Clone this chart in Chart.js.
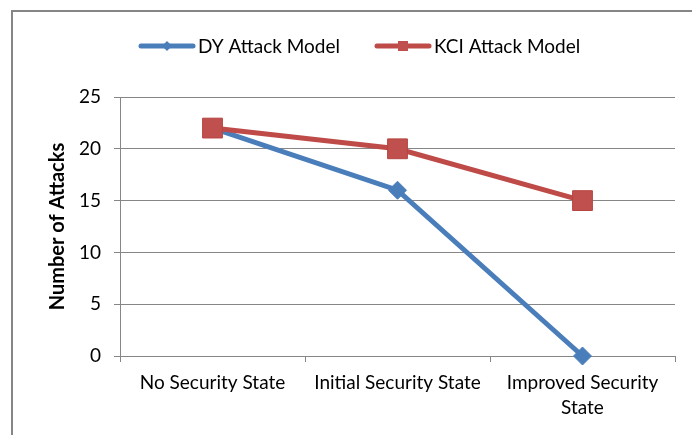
<!DOCTYPE html>
<html>
<head>
<meta charset="utf-8">
<style>
  html, body { margin: 0; padding: 0; background: #fff; }
  #wrap { position: relative; width: 692px; height: 435px; }
</style>
<script src="https://cdn.jsdelivr.net/npm/chart.js@4/dist/chart.umd.min.js"></script>
</head>
<body>
<div id="wrap"><canvas id="c" width="692" height="435"></canvas></div>
<script>
// Attacks found per security state, for each attack model
const categories = ['No Security State', 'Initial Security State', ['Improved Security', 'State']];
const dyAttacks = [22, 16, 0];
const kciAttacks = [22, 20, 15];
const yTicks = [0, 5, 10, 15, 20, 25];

const FONT = 'Lato, "Open Sans", sans-serif';
const BLUE = '#4a7ebb';
const RED = '#be4b48';
const GRID = '#868686';

// Outer frame and a line-with-marker legend, drawn on the canvas
const framePlugin = {
  id: 'frame',
  beforeDraw(chart) {
    const ctx = chart.ctx;
    ctx.save();
    ctx.strokeStyle = GRID;
    ctx.lineWidth = 2;
    ctx.beginPath();
    ctx.moveTo(12, 440);
    ctx.lineTo(12, 11);
    ctx.lineTo(700, 11);
    ctx.stroke();
    ctx.restore();
  }
};

const lineLegend = {
  id: 'lineLegend',
  afterDraw(chart) {
    const ctx = chart.ctx;
    ctx.save();
    ctx.font = '19px ' + FONT;
    ctx.textBaseline = 'middle';
    const y = 46;
    const lineLen = 56, gap = 3, spacing = 35;
    const items = chart.data.datasets.map(ds => ({
      ds, w: lineLen + gap + ctx.measureText(ds.label).width
    }));
    let x = 139;
    items.forEach(({ ds, w }) => {
      ctx.strokeStyle = ds.borderColor;
      ctx.lineWidth = 5;
      ctx.lineCap = 'round';
      ctx.beginPath();
      ctx.moveTo(x + 2, y);
      ctx.lineTo(x + lineLen - 2, y);
      ctx.stroke();
      const cx = x + lineLen / 2;
      ctx.fillStyle = ds.pointBackgroundColor;
      ctx.beginPath();
      if (ds.pointStyle === 'rectRot') {
        const r = 5;
        ctx.moveTo(cx, y - r); ctx.lineTo(cx + r, y); ctx.lineTo(cx, y + r); ctx.lineTo(cx - r, y);
        ctx.closePath();
      } else {
        ctx.rect(cx - 5, y - 5, 10, 10);
      }
      ctx.fill();
      ctx.fillStyle = '#000';
      ctx.fillText(ds.label, x + lineLen + gap, y + 1);
      x += w + spacing;
    });
    ctx.restore();
  }
};

new Chart(document.getElementById('c'), {
  type: 'line',
  data: {
    labels: categories,
    datasets: [
      {
        label: 'DY Attack Model',
        data: dyAttacks,
        order: 1,
        clip: false,
        borderColor: BLUE,
        backgroundColor: BLUE,
        pointBackgroundColor: BLUE,
        pointBorderColor: BLUE,
        borderWidth: 5,
        pointStyle: 'rectRot',
        pointRadius: 9,
        pointHoverRadius: 9,
        pointBorderWidth: 1,
        tension: 0
      },
      {
        label: 'KCI Attack Model',
        data: kciAttacks,
        order: 0,
        clip: false,
        borderColor: RED,
        backgroundColor: RED,
        pointBackgroundColor: '#c0504d',
        pointBorderColor: '#b64542',
        borderWidth: 5,
        pointStyle: 'rect',
        pointRadius: 14,
        pointHoverRadius: 14,
        pointBorderWidth: 1,
        tension: 0
      }
    ]
  },
  options: {
    responsive: false,
    animation: false,
    layout: { padding: { top: 97, right: 17, left: 0, bottom: 0 } },
    plugins: {
      legend: { display: false },
      tooltip: { enabled: false }
    },
    scales: {
      x: {
        offset: true,
        grid: {
          offset: true,
          drawOnChartArea: false,
          drawTicks: true,
          tickLength: 6,
          color: GRID,
          lineWidth: 1
        },
        border: { color: GRID, width: 1 },
        ticks: {
          color: '#000',
          font: { family: FONT, size: 19, lineHeight: 1.3 },
          padding: 9,
          maxRotation: 0,
          autoSkip: false
        },
        afterFit(scale) { scale.height = 79; }
      },
      y: {
        min: 0,
        max: 25,
        afterBuildTicks(scale) { scale.ticks = yTicks.map(v => ({ value: v })); },
        grid: {
          color: GRID,
          lineWidth: 1,
          drawTicks: true,
          tickLength: 6
        },
        border: { color: GRID, width: 1 },
        ticks: {
          color: '#000',
          font: { family: FONT, size: 19 },
          padding: 13
        },
        title: {
          display: true,
          text: 'Number of Attacks',
          color: '#000',
          font: { family: FONT, size: 20, weight: 'bold' },
          padding: { top: 46, bottom: 0 }
        },
        afterFit(scale) { scale.width = 120; }
      }
    }
  },
  plugins: [framePlugin, lineLegend]
});
</script>
</body>
</html>
